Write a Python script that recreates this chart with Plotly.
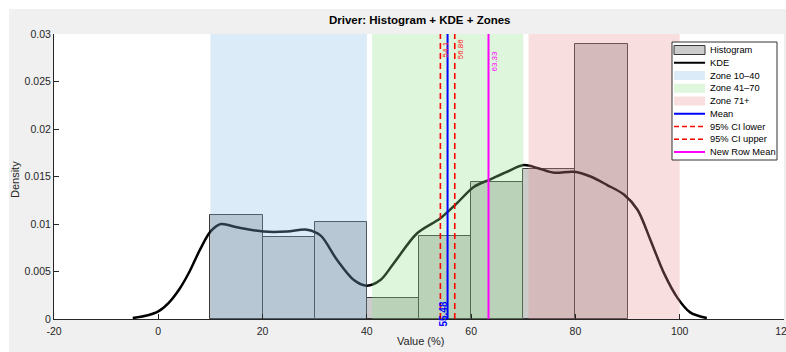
import plotly.graph_objects as go

# ---- data ----
bin_edges = [10, 20, 30, 40, 50, 60, 70, 80, 90]
hist_density = [0.0110, 0.0086, 0.0102, 0.0022, 0.0087, 0.0144, 0.0158, 0.0289]

kde_x = [-4.9, -2.0, 0.0, 2.0, 4.0, 6.0, 8.0, 10.0, 12.0, 15.1, 20.2, 24.7, 28.5, 31.1,
         34.3, 37.5, 40.0, 42.6, 45.2, 49.6, 54.1, 57.3, 60.5, 63.7, 66.9, 70.1, 72.7,
         75.9, 79.7, 82.9, 86.1, 89.3, 91.9, 94.4, 97.0, 99.6, 102.0, 105.2]
kde_y = [0.0001, 0.0004, 0.0008, 0.0017, 0.0031, 0.0050, 0.0073, 0.0092, 0.0100,
         0.00965, 0.0092, 0.0092, 0.0094, 0.0088, 0.0062, 0.0041, 0.0035, 0.0041,
         0.0059, 0.0090, 0.0106, 0.0122, 0.0139, 0.0147, 0.0155, 0.0162, 0.0159,
         0.0154, 0.0155, 0.0150, 0.0141, 0.0131, 0.0115, 0.0083, 0.0048, 0.0022,
         0.0007, 0.0001]

zone_names = ["Zone 10\u201340", "Zone 41\u201370", "Zone 71+"]
zone_lo = [10, 41, 71]
zone_hi = [40, 70, 100]
zone_fill = ["rgba(135,188,232,0.3)", "rgba(145,225,138,0.3)", "rgba(235,145,152,0.3)"]

mean_val = 55.48
ci_lower = 54.10
ci_upper = 56.86
new_row_mean = 63.33

x_ticks = [-20, 0, 20, 40, 60, 80, 100, 120]
y_ticks = [0, 0.005, 0.01, 0.015, 0.02, 0.025, 0.03]
y_ticktext = ["0", "0.005", "0.01", "0.015", "0.02", "0.025", "0.03"]
y_max = 0.03

# ---- layout geometry (pixels) ----
W, H = 786, 352
ML, MR, MT, MB = 54, 2, 34, 33
PW, PH = W - ML - MR, H - MT - MB
FONT = "Liberation Sans, Arial, sans-serif"
AX = "#262626"


def px(xp):
    return (xp - ML) / PW


def py(yp):
    return (H - MB - yp) / PH


fig = go.Figure()

# histogram (density)
centers = [(a + b) / 2 for a, b in zip(bin_edges[:-1], bin_edges[1:])]
widths = [b - a for a, b in zip(bin_edges[:-1], bin_edges[1:])]
fig.add_trace(go.Bar(x=centers, y=hist_density, width=widths,
                     marker=dict(color="rgba(128,128,128,0.4)",
                                 line=dict(color="rgb(55,55,55)", width=1)),
                     showlegend=False))

# kernel density estimate
fig.add_trace(go.Scatter(x=kde_x, y=kde_y, mode="lines",
                         line=dict(color="black", width=2.5, shape="spline", smoothing=0.9),
                         showlegend=False))

# shaded zones
for lo, hi, col in zip(zone_lo, zone_hi, zone_fill):
    fig.add_trace(go.Scatter(x=[lo, hi, hi, lo, lo], y=[0, 0, y_max, y_max, 0],
                             mode="lines", fill="toself", fillcolor=col,
                             line=dict(width=0), hoverinfo="skip", showlegend=False))

# reference lines
def vline(x, color, dash, width):
    fig.add_trace(go.Scatter(x=[x, x], y=[0, y_max], mode="lines",
                             line=dict(color=color, width=width, dash=dash),
                             showlegend=False))

vline(mean_val, "#0000ff", "solid", 2)
vline(ci_lower, "#ff0000", "6px,4px", 1.6)
vline(ci_upper, "#ff0000", "6px,4px", 1.6)
vline(new_row_mean, "#ff00ff", "solid", 2)

annotations = []


def vlabel(x, y, text, color, size, bold, dx, dy):
    annotations.append(dict(x=x, y=y, xref="x", yref="y", text=f"<b>{text}</b>" if bold else text,
                            textangle=-90, showarrow=False, xanchor="center", yanchor="middle",
                            xshift=dx, yshift=dy, font=dict(family=FONT, size=size, color=color)))


def fmt(v):
    return f"{v:.4g}"


vlabel(mean_val, 0, fmt(mean_val), "#0000ff", 10, True, -5, 5)
vlabel(ci_lower, y_max, fmt(ci_lower), "#ff2020", 8, False, 5, -15)
vlabel(ci_upper, y_max, fmt(ci_upper), "#ff2020", 8, False, 5.5, -15)
vlabel(new_row_mean, y_max, fmt(new_row_mean), "#ff00ff", 8, False, 5, -27)

# title and axis titles
annotations.append(dict(x=px(420), y=py(20), xref="paper", yref="paper", showarrow=False,
                        text="<b>Driver: Histogram + KDE + Zones</b>",
                        font=dict(family=FONT, size=11.5, color="black"),
                        xanchor="center", yanchor="middle"))
annotations.append(dict(x=px(420), y=py(341), xref="paper", yref="paper", showarrow=False,
                        text="Value (%)", font=dict(family=FONT, size=11, color=AX),
                        xanchor="center", yanchor="middle"))
annotations.append(dict(x=px(15), y=py(180), xref="paper", yref="paper", showarrow=False,
                        text="Density", textangle=-90, font=dict(family=FONT, size=11, color=AX),
                        xanchor="center", yanchor="middle"))

shapes = [
    # white border strips around the grey figure area
    dict(type="rect", xref="paper", yref="paper", x0=px(0), x1=px(W), y0=py(9), y1=py(0),
         fillcolor="white", line=dict(width=0), layer="below"),
    dict(type="rect", xref="paper", yref="paper", x0=px(0), x1=px(9), y0=py(H), y1=py(0),
         fillcolor="white", line=dict(width=0), layer="below"),
]

# legend box drawn by hand for compact spacing
LX0, LX1, LY0, LY1 = 672, 777, 42, 160
shapes.append(dict(type="rect", xref="paper", yref="paper", x0=px(LX0), x1=px(LX1),
                   y0=py(LY1), y1=py(LY0), fillcolor="white",
                   line=dict(color="#333333", width=1), layer="above"))

legend_items = [
    ("Histogram", "patch", "rgb(204,204,204)", "rgb(55,55,55)"),
    ("KDE", "line", "black", "solid"),
    (zone_names[0], "patch", "rgb(219,235,248)", None),
    (zone_names[1], "patch", "rgb(222,246,220)", None),
    (zone_names[2], "patch", "rgb(249,222,224)", None),
    ("Mean", "line", "#0000ff", "solid"),
    ("95% CI lower", "line", "#ff0000", "dash"),
    ("95% CI upper", "line", "#ff0000", "dash"),
    ("New Row Mean", "line", "#ff00ff", "solid"),
]
SX0, SX1, TX = 674, 705, 708
for i, (name, kind, col, extra) in enumerate(legend_items):
    yc = 50 + 12.75 * i
    if kind == "patch":
        shapes.append(dict(type="rect", xref="paper", yref="paper", x0=px(SX0), x1=px(SX1),
                           y0=py(yc + 4.5), y1=py(yc - 4.5), fillcolor=col,
                           line=dict(color=extra or col, width=1 if extra else 0), layer="above"))
    else:
        shapes.append(dict(type="line", xref="paper", yref="paper", x0=px(SX0), x1=px(SX1),
                           y0=py(yc), y1=py(yc),
                           line=dict(color=col, width=2 if extra == "solid" else 1.6,
                                     dash="solid" if extra == "solid" else "5px,3px"),
                           layer="above"))
    annotations.append(dict(x=px(TX), y=py(yc), xref="paper", yref="paper", showarrow=False,
                            text=name, xanchor="left", yanchor="middle",
                            font=dict(family=FONT, size=9.3, color="black")))

fig.update_layout(
    width=W, height=H,
    margin=dict(l=ML, r=MR, t=MT, b=MB, pad=0, autoexpand=False),
    paper_bgcolor="#f0f0f0", plot_bgcolor="white",
    bargap=0, showlegend=False,
    font=dict(family=FONT, size=10.5, color=AX),
    shapes=shapes, annotations=annotations,
    xaxis=dict(range=[-20, 120], tickvals=x_ticks, ticktext=[str(t) for t in x_ticks],
               ticks="inside", ticklen=5, tickcolor=AX, showline=True, linecolor=AX,
               linewidth=1, showgrid=False, zeroline=False, automargin=False,
               ticklabeloverflow="allow", ticklabelstandoff=2,
               tickfont=dict(family=FONT, size=10.5, color=AX)),
    yaxis=dict(range=[0, y_max], tickvals=y_ticks, ticktext=y_ticktext,
               ticks="inside", ticklen=5, tickcolor=AX, showline=True, linecolor=AX,
               linewidth=1, showgrid=False, zeroline=False, automargin=False,
               tickfont=dict(family=FONT, size=10.5, color=AX)),
)

fig.write_html("out.html")
